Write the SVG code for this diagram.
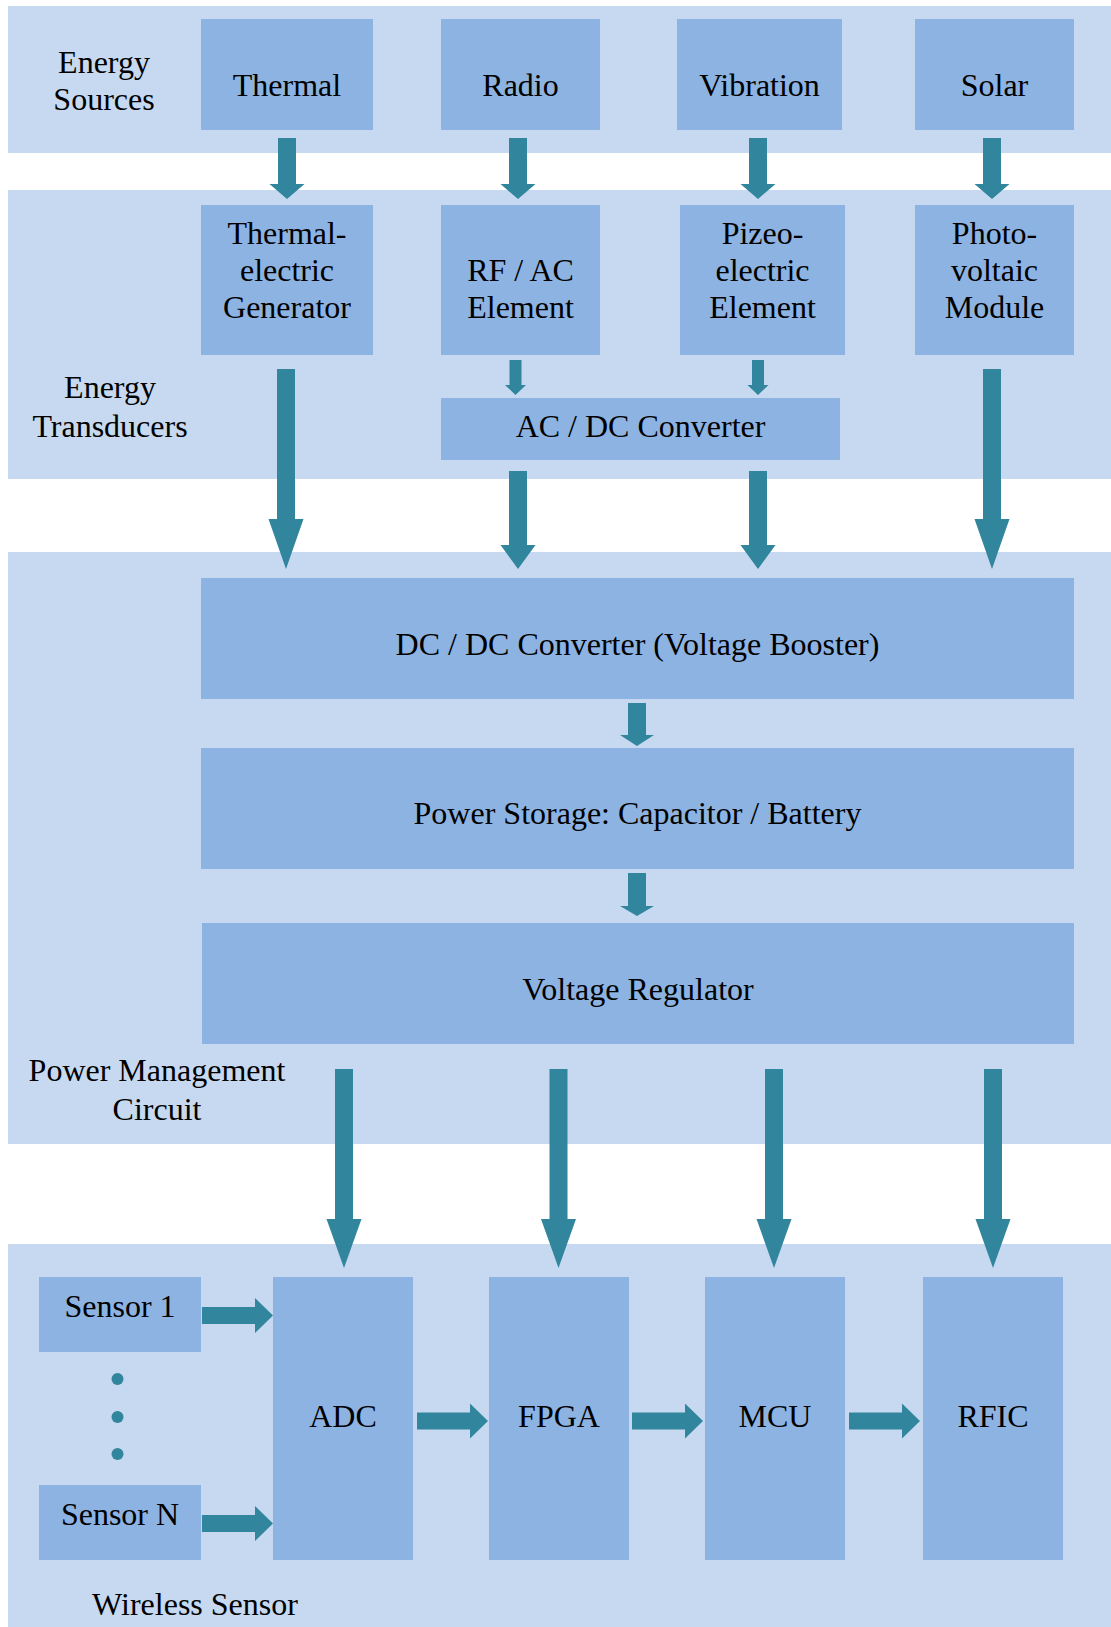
<svg xmlns="http://www.w3.org/2000/svg" width="1111" height="1627" viewBox="0 0 1111 1627">
<style>
.band{fill:#C6D9F0}
.box{fill:#8DB3E2}
.arr{fill:#31859C}
text{font-family:"Liberation Serif","Times New Roman",serif;font-size:32px;fill:#000;text-anchor:middle}
</style>
<rect width="1111" height="1627" fill="#fff"/>
<g id="bands">
<rect class="band" x="8" y="6" width="1103" height="147"/>
<rect class="band" x="8" y="190" width="1103" height="289"/>
<rect class="band" x="8" y="552" width="1103" height="592"/>
<rect class="band" x="8" y="1244" width="1103" height="383"/>
</g>
<g id="labels">
<text x="104" y="73">Energy</text><text x="104" y="110">Sources</text>
<text x="110" y="398">Energy</text><text x="110" y="437">Transducers</text>
<text x="157" y="1081">Power Management</text><text x="157" y="1120">Circuit</text>
<text x="195" y="1615">Wireless Sensor</text>
</g>
<g id="thermal"><rect class="box" x="201" y="19" width="172" height="111"/><text x="287" y="96">Thermal</text></g>
<g id="radio"><rect class="box" x="441" y="19" width="159" height="111"/><text x="520.5" y="96">Radio</text></g>
<g id="vibration"><rect class="box" x="677" y="19" width="165" height="111"/><text x="759.5" y="96">Vibration</text></g>
<g id="solar"><rect class="box" x="915" y="19" width="159" height="111"/><text x="994.5" y="96">Solar</text></g>
<g id="teg"><rect class="box" x="201" y="205" width="172" height="150"/><text x="287" y="244">Thermal-</text><text x="287" y="281">electric</text><text x="287" y="318">Generator</text></g>
<g id="rfac"><rect class="box" x="441" y="205" width="159" height="150"/><text x="520.5" y="281">RF / AC</text><text x="520.5" y="318">Element</text></g>
<g id="piezo"><rect class="box" x="680" y="205" width="165" height="150"/><text x="762.5" y="244">Pizeo-</text><text x="762.5" y="281">electric</text><text x="762.5" y="318">Element</text></g>
<g id="pv"><rect class="box" x="915" y="205" width="159" height="150"/><text x="994.5" y="244">Photo-</text><text x="994.5" y="281">voltaic</text><text x="994.5" y="318">Module</text></g>
<g id="acdc"><rect class="box" x="441" y="398" width="399" height="62"/><text x="640.5" y="437">AC / DC Converter</text></g>
<g id="dcdc"><rect class="box" x="201" y="578" width="873" height="121"/><text x="637.5" y="655">DC / DC Converter (Voltage Booster)</text></g>
<g id="storage"><rect class="box" x="201" y="748" width="873" height="121"/><text x="637.5" y="824">Power Storage: Capacitor / Battery</text></g>
<g id="regulator"><rect class="box" x="202" y="923" width="872" height="121"/><text x="638" y="1000">Voltage Regulator</text></g>
<g id="sensor1"><rect class="box" x="39" y="1277" width="162" height="75"/><text x="120" y="1317">Sensor 1</text></g>
<g id="sensorN"><rect class="box" x="39" y="1485" width="162" height="75"/><text x="120" y="1525">Sensor N</text></g>
<g id="dots" class="arr"><circle cx="117.5" cy="1379" r="6"/><circle cx="117.5" cy="1417" r="6"/><circle cx="117.5" cy="1454" r="6"/></g>
<g id="adc"><rect class="box" x="273" y="1277" width="140" height="283"/><text x="343" y="1427">ADC</text></g>
<g id="fpga"><rect class="box" x="489" y="1277" width="140" height="283"/><text x="559" y="1427">FPGA</text></g>
<g id="mcu"><rect class="box" x="705" y="1277" width="140" height="283"/><text x="775" y="1427">MCU</text></g>
<g id="rfic"><rect class="box" x="923" y="1277" width="140" height="283"/><text x="993" y="1427">RFIC</text></g>
<g id="connectors" class="arr">
<polygon points="278,138 296,138 296,184 304.5,184 287,199 269.5,184 278,184"/>
<polygon points="509,138 527,138 527,184 535.5,184 518,199 500.5,184 509,184"/>
<polygon points="749,138 767,138 767,184 775.5,184 758,199 740.5,184 749,184"/>
<polygon points="983,138 1001,138 1001,184 1009.5,184 992,199 974.5,184 983,184"/>
<polygon points="509.5,360 521.5,360 521.5,385 526,385 515.5,395 505,385 509.5,385"/>
<polygon points="752,360 764,360 764,385 768.5,385 758,395 747.5,385 752,385"/>
<polygon points="277,369 295,369 295,519 303.5,519 286,569 268.5,519 277,519"/>
<polygon points="983,369 1001,369 1001,519 1009.5,519 992,569 974.5,519 983,519"/>
<polygon points="509,471 527,471 527,545 535.5,545 518,569 500.5,545 509,545"/>
<polygon points="749,471 767,471 767,545 775.5,545 758,569 740.5,545 749,545"/>
<polygon points="628,703 646,703 646,735 654,735 637,746 620,735 628,735"/>
<polygon points="628,873 646,873 646,906 654,906 637,916 620,906 628,906"/>
<polygon points="335,1069 353,1069 353,1219 361.5,1219 344,1268 326.5,1219 335,1219"/>
<polygon points="549.5,1069 567.5,1069 567.5,1219 576,1219 558.5,1268 541,1219 549.5,1219"/>
<polygon points="765,1069 783,1069 783,1219 791.5,1219 774,1268 756.5,1219 765,1219"/>
<polygon points="984,1069 1002,1069 1002,1219 1010.5,1219 993,1268 975.5,1219 984,1219"/>
<polygon points="202,1307 255,1307 255,1298 273,1315.5 255,1333 255,1324 202,1324"/>
<polygon points="202,1515 255,1515 255,1506 273,1523.5 255,1541 255,1532 202,1532"/>
<polygon points="417,1412.5 470,1412.5 470,1403.5 488,1421 470,1438.5 470,1429.5 417,1429.5"/>
<polygon points="632,1412.5 685,1412.5 685,1403.5 703,1421 685,1438.5 685,1429.5 632,1429.5"/>
<polygon points="849,1412.5 902,1412.5 902,1403.5 920,1421 902,1438.5 902,1429.5 849,1429.5"/>
</g>
</svg>
